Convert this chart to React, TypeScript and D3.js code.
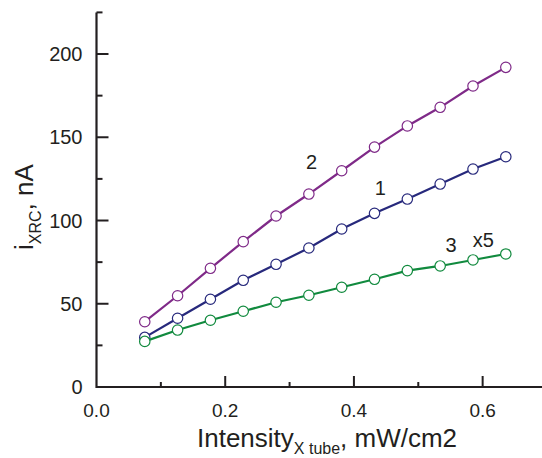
import React from 'react'
import * as d3 from 'd3'

// intensity, mW/cm2
const intensity = [0.075, 0.126, 0.177, 0.228, 0.279, 0.33, 0.381, 0.432, 0.483, 0.534, 0.585, 0.636]
// curve 1
const curve1 = [29.8, 41.3, 52.7, 64.1, 73.7, 83.5, 94.9, 104.3, 112.9, 121.9, 130.9, 138.3]
// curve 2
const curve2 = [39.2, 54.8, 71.3, 87.3, 102.7, 115.9, 129.9, 144.1, 156.8, 168.0, 180.8, 192.0]
// curve 3 (x5)
const curve3 = [27.4, 34.2, 40.1, 45.5, 50.9, 55.1, 59.9, 64.7, 69.9, 72.7, 76.3, 79.9]

const yTicks = [0, 25, 50, 75, 100, 125, 150, 175, 200, 225]
const xTicks = [0, 0.1, 0.2, 0.3, 0.4, 0.5, 0.6]
const xLabels = ['0.0', '', '0.2', '', '0.4', '', '0.6']

const W = 542
const H = 458
const FONT = '"Liberation Sans", Arial, sans-serif'
const INK = '#231f20'

const x = d3.scaleLinear().domain([0, 0.7]).range([96.5, 547])
const y = d3.scaleLinear().domain([0, 225]).range([387, 12.4])

const series = [
  { name: '2', values: curve2, color: '#7f2a88' },
  { name: '1', values: curve1, color: '#27297c' },
  { name: '3', values: curve3, color: '#118a3e' },
]

// curve annotations, in data units
const notes = [
  { text: '2', at: [0.334, 135] },
  { text: '1', at: [0.441, 119.5] },
  { text: '3', at: [0.551, 85.5] },
  { text: 'x5', at: [0.601, 88.5] },
]

const line = d3
  .line<number>()
  .x((_, i) => x(intensity[i]))
  .y((d) => y(d))

export default function App() {
  return (
    <svg
      width={W}
      height={H}
      style={{ position: 'absolute', left: 0, top: 0, background: '#fff' }}
      fontFamily={FONT}
    >
      {/* axes */}
      <line x1={x(0)} x2={W} y1={y(0)} y2={y(0)} stroke={INK} strokeWidth={2.2} />
      <line x1={x(0)} x2={x(0)} y1={y(225)} y2={y(0) + 1.1} stroke={INK} strokeWidth={2.2} />

      {yTicks.map((t) => (
        <g key={'y' + t}>
          {t > 0 && (
            <line
              x1={x(0)}
              x2={x(0) + (t % 50 === 0 ? 12 : 6)}
              y1={y(t)}
              y2={y(t)}
              stroke={INK}
              strokeWidth={2}
            />
          )}
          {t % 50 === 0 && (
            <text x={82.5} y={y(t)} dy="0.36em" textAnchor="end" fontSize={20} fill={INK}>
              {t}
            </text>
          )}
        </g>
      ))}

      {xTicks.map((t, i) => (
        <g key={'x' + t}>
          {t > 0 && (
            <line
              x1={x(t)}
              x2={x(t)}
              y1={y(0)}
              y2={y(0) - (i % 2 === 0 ? 11 : 5)}
              stroke={INK}
              strokeWidth={2}
            />
          )}
          <text x={x(t)} y={417} textAnchor="middle" fontSize={19} fill={INK}>
            {xLabels[i]}
          </text>
        </g>
      ))}

      {/* axis titles */}
      <text x={197} y={447} fontSize={26} fill={INK}>
        Intensity
        <tspan fontSize={16} dy={7}>X tube</tspan>
        <tspan dy={-7}>, mW/cm2</tspan>
      </text>
      <text transform="translate(33,250) rotate(-90)" fontSize={26} fill={INK}>
        i
        <tspan fontSize={16} dy={8}>XRC</tspan>
        <tspan dy={-8}>, nA</tspan>
      </text>

      {/* curves */}
      {series.map((s) => (
        <g key={s.name}>
          <path d={line(s.values) ?? ''} fill="none" stroke={s.color} strokeWidth={2.2} />
          {s.values.map((v, i) => (
            <circle
              key={i}
              cx={x(intensity[i])}
              cy={y(v)}
              r={5.2}
              fill="#fff"
              stroke={s.color}
              strokeWidth={1.2}
            />
          ))}
        </g>
      ))}

      {notes.map((n) => (
        <text
          key={n.text}
          x={x(n.at[0])}
          y={y(n.at[1])}
          dy="0.35em"
          textAnchor="middle"
          fontSize={20}
          fill={INK}
        >
          {n.text}
        </text>
      ))}
    </svg>
  )
}
